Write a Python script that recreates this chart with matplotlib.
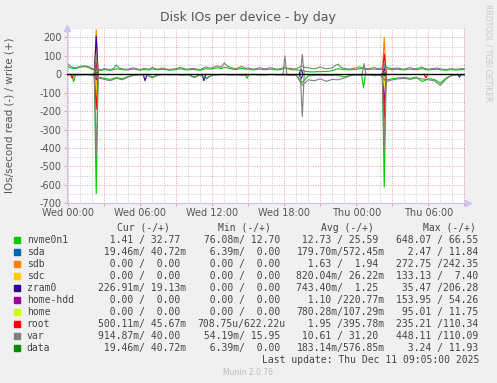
import numpy as np
import matplotlib
matplotlib.use('Agg')
import matplotlib.pyplot as plt
from matplotlib.patches import Rectangle
from matplotlib.ticker import MultipleLocator, FuncFormatter

W, H = 497, 383

# hours since Wed 00:00; writes sampled every 15 min, reads every 30 min
HOURS_W = np.arange(0, 33.01, 0.25)
HOURS_R = np.arange(0, 33.01, 0.5)

nvme_write = [40, 34, 30, 34, 38, 41, 40, 35, 26, 27, 22, 21, 26, 23, 22, 25,
              30, 27, 25, 23, 24, 27, 28, 25, 22, 25, 25, 23, 30, 26, 24, 27,
              26, 23, 22, 24, 25, 29, 28, 24, 24, 26, 26, 23, 22, 27, 30, 28,
              30, 33, 35, 31, 38, 34, 30, 27, 25, 30, 32, 28, 28, 25, 24, 27,
              28, 25, 25, 28, 27, 24, 24, 26, 40, 30, 26, 24, 24, 22, 20, 16,
              14, 13, 13, 14, 14, 15, 15, 17, 20, 26, 30, 27, 26, 24, 24, 26,
              26, 30, 32, 27, 25, 28, 28, 26, 26, 28, 30, 27, 25, 27, 27, 25,
              24, 27, 28, 26, 25, 28, 30, 26, 24, 25, 26, 27, 25, 23, 22, 24,
              25, 23, 24, 25, 26]
var_write = [55, 40, 35, 38, 42, 46, 45, 40, 30, 32, 28, 24, 32, 27, 26, 30,
             50, 34, 30, 27, 28, 33, 34, 29, 26, 31, 30, 27, 38, 30, 28, 33,
             32, 27, 26, 29, 30, 36, 35, 28, 28, 31, 32, 27, 25, 34, 40, 33,
             36, 42, 45, 38, 62, 44, 38, 34, 30, 38, 42, 32, 34, 29, 28, 33,
             36, 30, 30, 35, 34, 29, 28, 31, 35, 33, 32, 30, 30, 38, 45, 36,
             36, 32, 30, 34, 40, 33, 30, 32, 35, 48, 55, 36, 32, 29, 28, 33,
             34, 40, 36, 31, 30, 34, 36, 31, 32, 36, 40, 34, 30, 33, 34, 29,
             28, 33, 36, 30, 30, 35, 38, 31, 28, 30, 32, 34, 30, 27, 26, 29,
             30, 27, 28, 31, 30]
nvme_read = [1, 2, 2, 1, 3, 15, 22, 28, 18, 24, 12, 3, 2, 1, 15, 3, 1, 2,
             1, 3, 2, 14, 3, 20, 4, 2, 1, 3, 2, 2, 2, 1, 3, 2, 1, 3,
             2, 5, 4, 45, 8, 6, 5, 7, 6, 5, 15, 6, 3, 3, 2, 6, 4, 32,
             24, 20, 18, 22, 16, 40, 24, 28, 48, 20, 4, 3, 2]
var_read = [2, 5, 3, 2, 4, 20, 28, 35, 22, 30, 15, 5, 3, 2, 20, 4, 2, 3,
            2, 5, 3, 18, 4, 25, 5, 3, 2, 4, 3, 6, 3, 2, 4, 3, 2, 4,
            3, 6, 5, 60, 30, 35, 25, 38, 28, 30, 20, 8, 4, 6, 3, 8, 5, 40,
            30, 25, 22, 28, 20, 25, 30, 35, 60, 25, 5, 4, 3]

# short bursts: (hour, read, write)
nvme_events = [(0.45, 40, 0), (2.33, 648, 66), (14.9, 22, 0), (24.6, 74, 0), (26.33, 612, 50)]
sda_events = [(2.33, 2.5, 11.8), (26.33, 1.5, 8)]
sdb_events = [(2.33, 60, 242), (26.33, 272, 200)]
sdc_events = [(2.33, 133, 7.4), (26.33, 40, 5)]
zram0_events = [(2.33, 20, 206), (6.4, 35, 0), (11.3, 35, 0), (19.4, 25, 28),
                (26.33, 10, 30), (32.6, 15, 0)]
homehdd_events = [(2.33, 30, 40), (26.33, 154, 54)]
home_events = [(2.33, 95, 11.75), (16.5, 8, 0), (26.33, 60, 5)]
root_events = [(0.33, 22, 0), (2.33, 190, 60), (26.33, 235, 110), (29.8, 20, 0)]
var_events = [(2.33, 448, 110), (18.05, 0, 100), (19.5, 230, 108), (24.65, 0, 58),
              (26.33, 420, 60)]
data_events = [(2.33, 3.2, 11.9), (26.33, 2, 8)]

LABELS = ['nvme0n1', 'sda', 'sdb', 'sdc', 'zram0', 'home-hdd', 'home', 'root', 'var', 'data']
COLORS = ['#00CC00', '#0066B3', '#FF8000', '#FFCC00', '#330099',
          '#990099', '#CCFF00', '#FF0000', '#808080', '#008F00']
CUR_READ = ['1.41', '19.46m', '0.00', '0.00', '226.91m', '0.00', '0.00', '500.11m', '914.87m', '19.46m']
CUR_WRITE = ['32.77', '40.72m', '0.00', '0.00', '19.13m', '0.00', '0.00', '45.67m', '40.00', '40.72m']
MIN_READ = ['76.08m', '6.39m', '0.00', '0.00', '0.00', '0.00', '0.00', '708.75u', '54.19m', '6.39m']
MIN_WRITE = ['12.70', '0.00', '0.00', '0.00', '0.00', '0.00', '0.00', '622.22u', '15.95', '0.00']
AVG_READ = ['12.73', '179.70m', '1.63', '820.04m', '743.40m', '1.10', '780.28m', '1.95', '10.61', '183.14m']
AVG_WRITE = ['25.59', '572.45m', '1.94', '26.22m', '1.25', '220.77m', '107.29m', '395.78m', '31.20', '576.85m']
MAX_READ = ['648.07', '2.47', '272.75', '133.13', '35.47', '153.95', '95.01', '235.21', '448.11', '3.24']
MAX_WRITE = ['66.55', '11.84', '242.35', '7.40', '206.28', '54.26', '11.75', '110.34', '110.09', '11.93']

X_LABELS = {0: 'Wed 00:00', 6: 'Wed 06:00', 12: 'Wed 12:00', 18: 'Wed 18:00',
            24: 'Thu 00:00', 30: 'Thu 06:00'}

BASES = {'nvme0n1': (nvme_read, nvme_write), 'var': (var_read, var_write)}
EVENTS = [nvme_events, sda_events, sdb_events, sdc_events, zram0_events,
          homehdd_events, home_events, root_events, var_events, data_events]


def fx(x):
    return x / W


def fy(y):
    return 1 - y / H


def fmt(v):
    s = v if v[-1].isalpha() else v + ' '
    return s.rjust(7)


fig = plt.figure(figsize=(W / 100, H / 100), dpi=100, facecolor='#F0F0F0')
ax = fig.add_axes([fx(66.7), fy(203.3), (465 - 66.7) / W, 175.3 / H])
ax.set_facecolor('white')

LW = 0.8
SPIKE_W = 0.16
for i, (name, color, events) in enumerate(zip(LABELS, COLORS, EVENTS)):
    z = 3 + i * 0.1
    if name in BASES:
        rd, wr = BASES[name]
        assert len(rd) == len(HOURS_R) and len(wr) == len(HOURS_W)
        ax.plot(HOURS_W, wr, color=color, lw=LW, zorder=z)
        ax.plot(HOURS_R, -np.array(rd), color=color, lw=LW, zorder=z)
    for t, r, w in events:
        xs = [t - SPIKE_W, t, t + SPIKE_W]
        if w:
            ax.plot(xs, [0, w, 0], color=color, lw=LW, zorder=z)
        if r:
            ax.plot(xs, [0, -r, 0], color=color, lw=LW, zorder=z)

ax.axhline(0, color='black', lw=1.0, zorder=5)

ax.set_xlim(-0.13, 33.06)
ax.set_ylim(-700, 251)

# grid: red major, grey minor, dotted
ax.xaxis.set_major_locator(MultipleLocator(3))
ax.xaxis.set_minor_locator(MultipleLocator(1))
ax.yaxis.set_major_locator(MultipleLocator(100))
ax.yaxis.set_minor_locator(MultipleLocator(50))
ax.xaxis.set_major_formatter(FuncFormatter(lambda v, p: X_LABELS.get(int(round(v)), '')))
ax.yaxis.set_major_formatter(FuncFormatter(lambda v, p: '%d' % v if v <= 200 else ''))
ax.grid(which='minor', color='#C8C8C8', lw=0.7, ls=(0, (1, 1.5)), zorder=1)
ax.grid(which='major', color='#E6A0A0', lw=0.7, ls=(0, (1, 1.5)), zorder=1.5)
ax.tick_params(which='major', length=2, width=0.7, color='#E6A0A0',
               labelsize=7, labelcolor='#555555', pad=1.5)
ax.tick_params(which='minor', length=0)

for side in ['top', 'right']:
    ax.spines[side].set_visible(False)
for side in ['left', 'bottom']:
    ax.spines[side].set_color('#C8C8F0')
    ax.spines[side].set_linewidth(0.8)
ax.axvline(33.06, color='#999999', lw=1.0, zorder=6)

# axis arrows
ax.plot([-0.13], [251], marker='^', color='#C8C8F0', ms=4, clip_on=False, zorder=7)
ax.plot([33.06 + 0.25], [-700], marker='>', color='#C8C8F0', ms=4, clip_on=False, zorder=7)

fig.text(fx(248), fy(18), 'Disk IOs per device - by day', ha='center', va='center',
         fontsize=9, color='#555555')
fig.text(fx(10), fy(115), 'IOs/second read (-) / write (+)', rotation=90,
         ha='center', va='center', fontsize=7.5, color='#555555')
fig.text(fx(488), fy(53), 'RRDTOOL / TOBI OETIKER', rotation=270, ha='center',
         va='center', fontsize=5.5, color='#C8C8C8')

# legend table
mono = 'DejaVu Sans Mono'
tc = '#444444'
headers = ['Cur (-/+)', 'Min (-/+)', 'Avg (-/+)', 'Max (-/+)']
header_x = [116.7, 218.3, 320.7, 422.7]
for h, hx in zip(headers, header_x):
    fig.text(fx(hx), fy(227.7), h, ha='left', va='center', fontsize=7,
             family=mono, color=tc)

col_x = [98, 197.5, 296.5, 395.7]
cols = [(CUR_READ, CUR_WRITE), (MIN_READ, MIN_WRITE), (AVG_READ, AVG_WRITE), (MAX_READ, MAX_WRITE)]
for i, (name, color) in enumerate(zip(LABELS, COLORS)):
    y = 239.7 + i * 12.0
    fig.patches.append(Rectangle((fx(14), fy(y + 3)), 6 / W, 6 / H,
                                 transform=fig.transFigure, color=color))
    fig.text(fx(26.7), fy(y), name, ha='left', va='center', fontsize=7,
             family=mono, color=tc)
    for (rd, wr), cx in zip(cols, col_x):
        fig.text(fx(cx), fy(y), fmt(rd[i]) + '/' + fmt(wr[i]), ha='left',
                 va='center', fontsize=7, family=mono, color=tc)

fig.text(fx(261.7), fy(359.7), 'Last update: Thu Dec 11 09:05:00 2025', ha='left',
         va='center', fontsize=7, family=mono, color=tc)
fig.text(fx(248), fy(372.3), 'Munin 2.0.76', ha='center', va='center',
         fontsize=5.5, color='#BBBBBB')

fig.savefig('out.png', dpi=100, facecolor=fig.get_facecolor())
